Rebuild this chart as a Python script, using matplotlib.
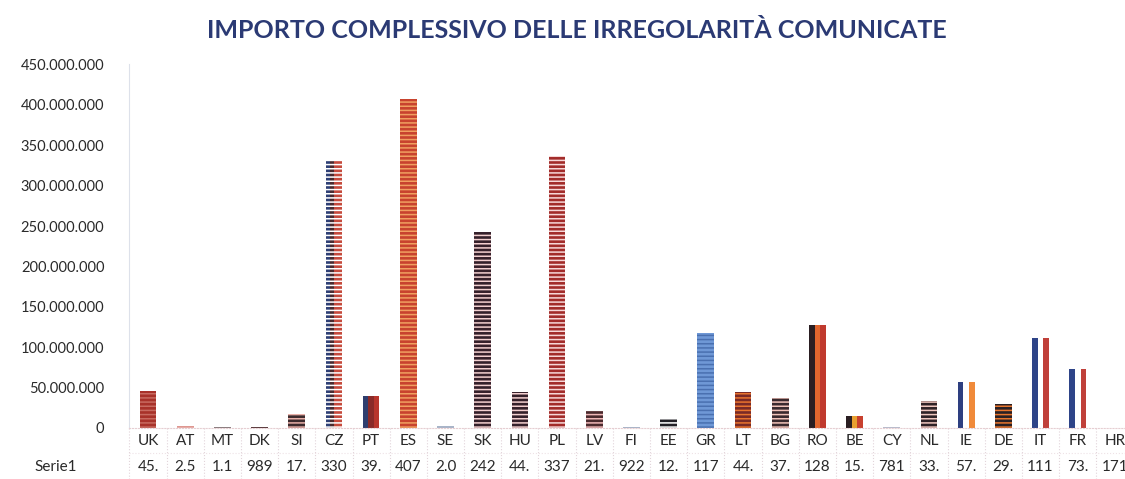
import matplotlib as mpl
mpl.use('Agg')
import matplotlib.pyplot as plt
import matplotlib.transforms as mtransforms
import numpy as np

# dati: importo delle irregolarità comunicate (euro)
paesi = ['UK', 'AT', 'MT', 'DK', 'SI', 'CZ', 'PT', 'ES', 'SE', 'SK', 'HU', 'PL', 'LV', 'FI',
         'EE', 'GR', 'LT', 'BG', 'RO', 'BE', 'CY', 'NL', 'IE', 'DE', 'IT', 'FR', 'HR']
valori = [45.5e6, 2.55e6, 1.15e6, 989.4e3, 17.4e6, 330.2e6, 39.4e6, 407.2e6, 2.04e6, 242.3e6,
          44.2e6, 337.1e6, 21.3e6, 922.6e3, 12.4e6, 117.3e6, 44.1e6, 37.2e6, 128.0e6, 15.1e6,
          781.2e3, 33.2e6, 57.1e6, 29.4e6, 111.2e6, 73.1e6, 171.5e3]
nome_serie = 'Serie1'

# stile delle barre (bande verticali, colore delle righe orizzontali)
bande = {
    'UK': ['#A8322A'], 'AT': ['#B8403A'], 'MT': ['#8A7C7E'], 'DK': ['#5A3A3C'],
    'SI': ['#3D2B2E'], 'CZ': ['#2E3F75', '#4A2A2E', '#C54A3C', '#C54A3C'],
    'PT': ['#2F3E6E', '#8A2A28', '#B8352C'], 'ES': ['#C8432E'], 'SE': ['#A8B4C8'],
    'SK': ['#34202A'], 'HU': ['#34202A'], 'PL': ['#A22C2A'], 'LV': ['#4A2A2E'],
    'FI': ['#A8B4C8'], 'EE': ['#222026'], 'GR': ['#6F98D6'], 'LT': ['#7A2A26'],
    'BG': ['#3A2A2E'], 'RO': ['#2A1E22', '#E0652E', '#C03A2E'],
    'BE': ['#2A1E22', '#E8A030', '#C8402E'], 'CY': ['#B8BCCC'], 'NL': ['#2E2226'],
    'IE': ['#2E3F80', '#FFFFFF', '#F08A3A'], 'DE': ['#2A2024'],
    'IT': ['#2E4488', '#FFFFFF', '#C0403A'], 'FR': ['#2E4488', '#FFFFFF', '#C0403A'],
    'HR': ['#6A5A5E'],
}
righe = {
    'UK': '#C86A60', 'AT': '#F0C0BA', 'SI': '#E8B0A8', 'CZ': '#FFFFFF', 'ES': '#F0A060',
    'SK': '#F4D0D0', 'HU': '#F4D0D0', 'PL': '#F6D8D8', 'LV': '#F0B8B8', 'EE': '#FFFFFF',
    'GR': '#4A70B0', 'LT': '#E8732E', 'BG': '#F2C4BA', 'NL': '#F0C8C0', 'DE': '#E8762E',
}

plt.rcParams['font.family'] = ['Lato', 'DejaVu Sans']
plt.rcParams['hatch.linewidth'] = 1.1

fig = plt.figure(figsize=(11.25, 4.79), dpi=100)
ax = fig.add_axes([0.115, 0.1065, 0.8926, 0.759])

x = np.arange(len(paesi))
larghezza = 0.45
for i, (p, v) in enumerate(zip(paesi, valori)):
    cols = bande[p]
    bw = larghezza / len(cols)
    for j, c in enumerate(cols):
        xx = x[i] - larghezza / 2 + bw * (j + 0.5)
        if p in righe and c != '#FFFFFF':
            ax.bar(xx, v, bw, color=c, edgecolor=righe[p], hatch='----', linewidth=0)
        else:
            ax.bar(xx, v, bw, color=c, linewidth=0)

ax.set_xlim(-0.5, len(paesi) - 0.5)
ax.set_ylim(0, 450e6)
yt = np.arange(0, 450e6 + 1, 50e6)
ax.set_yticks(yt)
ax.set_yticklabels([f'{int(t):,}'.replace(',', '.') for t in yt], fontsize=10.5, color='#2A2A2A')
ax.tick_params(axis='y', length=0, pad=18)
ax.set_xticks([])
for s in ['top', 'right']:
    ax.spines[s].set_visible(False)
ax.spines['left'].set_color('#DDE1EA')
ax.spines['bottom'].set_color('#E6CED2')
ax.spines['bottom'].set_linestyle(':')

# tabella dati sotto il grafico
trans = mtransforms.blended_transform_factory(ax.transData, ax.transAxes)
for i, (p, v) in enumerate(zip(paesi, valori)):
    ax.text(x[i], -0.037, p, transform=trans, ha='center', va='center',
            fontsize=11, color='#2A2A2A')
    etichetta = f'{int(round(v)):,}'.replace(',', '.')[:3]
    ax.text(x[i], -0.108, etichetta, transform=trans, ha='center', va='center',
            fontsize=11, color='#2A2A2A')
for i in range(len(paesi) + 1):
    ax.plot([i - 0.5, i - 0.5], [0, -0.15], transform=trans, color='#E2D4DA',
            lw=0.8, ls=':', clip_on=False)
ax.plot([-0.5, len(paesi) - 0.5], [-0.07, -0.07], transform=trans, color='#EEE2E6',
        lw=0.8, ls=':', clip_on=False)
fig.text(0.031, 0.025, nome_serie, ha='left', va='center', fontsize=11, color='#2A2A2A')

fig.text(0.513, 0.937, 'IMPORTO COMPLESSIVO DELLE IRREGOLARITÀ COMUNICATE',
         ha='center', va='center', fontsize=18, fontweight='bold', color='#2B3A74')

plt.savefig('out.png', dpi=100)
